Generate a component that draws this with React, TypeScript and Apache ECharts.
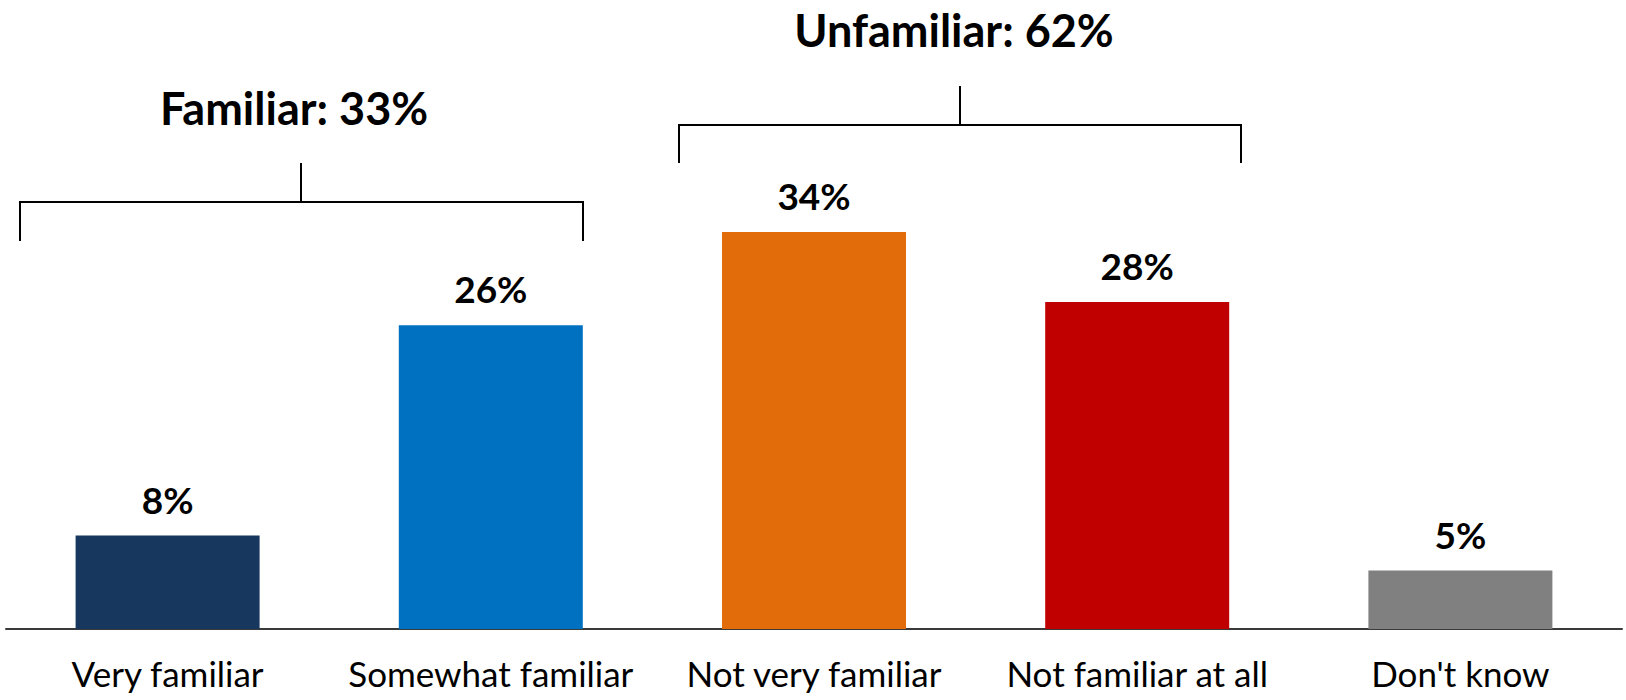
import React, { useEffect, useRef } from "react";
import * as echarts from "echarts";

const categories = ["Very familiar", "Somewhat familiar", "Not very familiar", "Not familiar at all", "Don't know"];
const values = [8, 26, 34, 28, 5];
const barColors = ["#17375E", "#0070C0", "#E36C0A", "#C00000", "#808080"];
const groupLabels = ["Familiar: 33%", "Unfamiliar: 62%"];

const FONT = "Lato";

export default function App() {
  const ref = useRef<HTMLDivElement>(null);
  useEffect(() => {
    if (!ref.current) return;
    const chart = echarts.init(ref.current, null, { renderer: "svg" });
    const lineStyle = { stroke: "#000", lineWidth: 2 };
    chart.setOption({
      animation: false,
      backgroundColor: "#fff",
      grid: { left: 6, right: 4, top: 45, bottom: 71 },
      xAxis: {
        type: "category",
        data: categories,
        axisTick: { show: false },
        axisLine: { lineStyle: { color: "#3a3a3a", width: 2 } },
        axisLabel: { fontSize: 35, fontFamily: FONT, color: "#000", margin: 26, interval: 0 },
      },
      yAxis: { type: "value", min: 0, max: 50, show: false },
      series: [
        {
          type: "bar",
          barWidth: 184,
          data: values.map((v, i) => ({ value: v, itemStyle: { color: barColors[i] } })),
          label: {
            show: true,
            position: "top",
            distance: 18,
            formatter: "{c}%",
            fontSize: 37,
            fontWeight: "bold",
            fontFamily: FONT,
            color: "#000",
          },
        },
      ],
      graphic: [
        { type: "polyline", shape: { points: [[20, 241], [20, 202], [583, 202], [583, 241]] }, style: { ...lineStyle, fill: "none" } },
        { type: "line", shape: { x1: 301, y1: 163, x2: 301, y2: 202 }, style: lineStyle },
        { type: "polyline", shape: { points: [[679, 163], [679, 125], [1241, 125], [1241, 163]] }, style: { ...lineStyle, fill: "none" } },
        { type: "line", shape: { x1: 960, y1: 86, x2: 960, y2: 125 }, style: lineStyle },
        {
          type: "text",
          x: 294,
          y: 108,
          style: { text: groupLabels[0], fontSize: 45, fontWeight: "bold", fontFamily: FONT, fill: "#000", align: "center", verticalAlign: "middle" },
        },
        {
          type: "text",
          x: 954,
          y: 30,
          style: { text: groupLabels[1], fontSize: 45, fontWeight: "bold", fontFamily: FONT, fill: "#000", align: "center", verticalAlign: "middle" },
        },
      ],
    });
    return () => chart.dispose();
  }, []);
  return <div ref={ref} style={{ position: "absolute", left: 0, top: 0, width: 1626, height: 700 }} />;
}
